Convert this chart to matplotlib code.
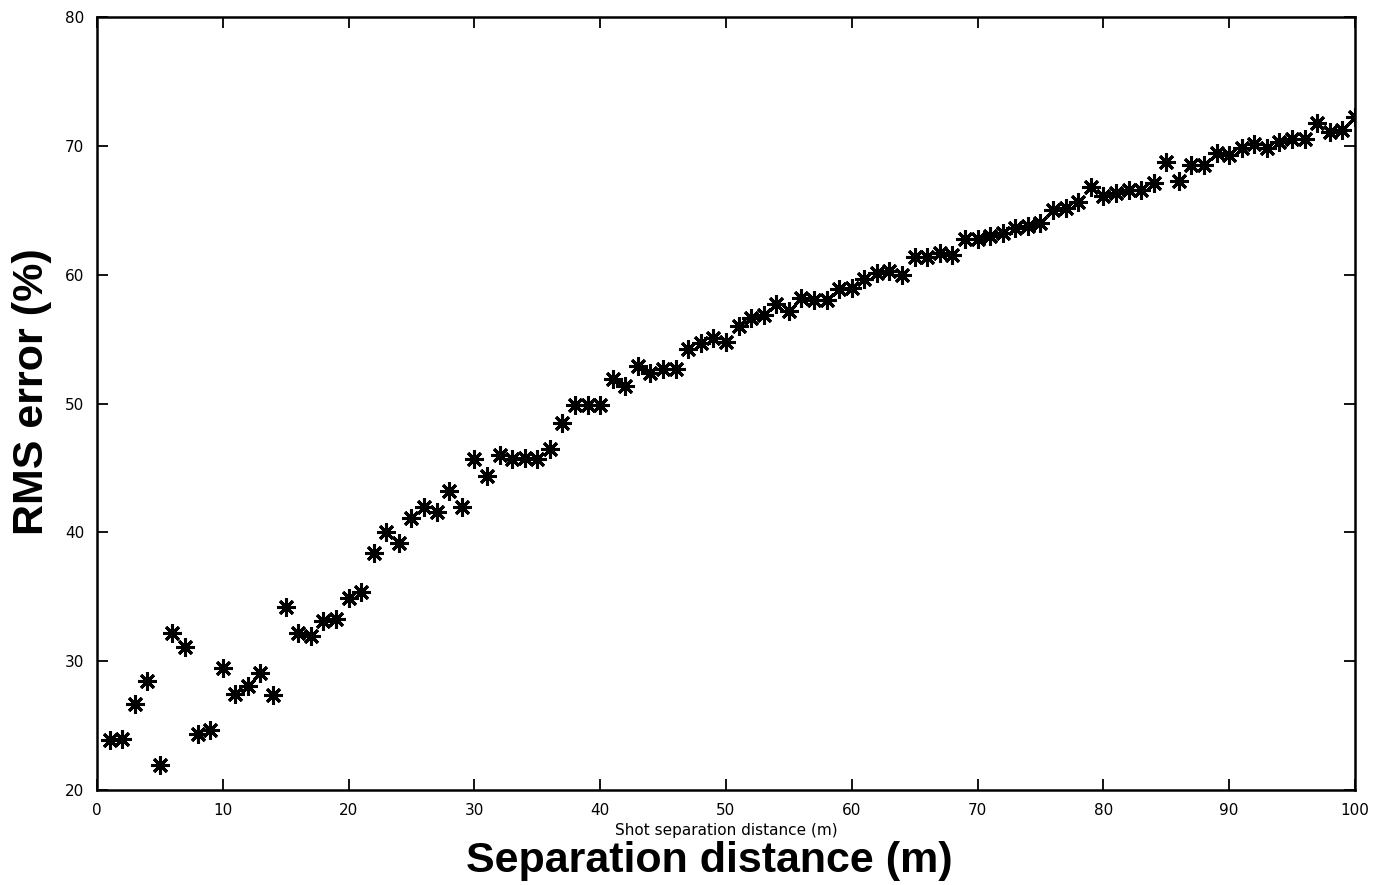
import matplotlib
matplotlib.use("Agg")
import matplotlib.pyplot as plt

# separation distance (m) and RMS error (%)
distance = list(range(1, 101))
rms_error = [
    23.9, 24.0, 26.7, 28.5, 22.0, 32.2, 31.1, 24.4, 24.7, 29.5,
    27.5, 28.1, 29.1, 27.4, 34.2, 32.2, 32.0, 33.1, 33.3, 34.9,
    35.4, 38.4, 40.0, 39.2, 41.1, 42.0, 41.6, 43.2, 42.0, 45.7,
    44.4, 46.0, 45.7, 45.8, 45.7, 46.5, 48.5, 49.9, 49.9, 49.9,
    51.9, 51.4, 52.9, 52.4, 52.7, 52.7, 54.2, 54.7, 55.1, 54.8,
    56.0, 56.6, 56.9, 57.7, 57.2, 58.2, 58.0, 58.0, 58.9, 59.0,
    59.7, 60.1, 60.3, 60.0, 61.4, 61.4, 61.7, 61.5, 62.8, 62.8,
    63.0, 63.2, 63.6, 63.8, 64.0, 65.0, 65.2, 65.6, 66.8, 66.1,
    66.3, 66.6, 66.6, 67.1, 68.7, 67.3, 68.5, 68.5, 69.4, 69.3,
    69.8, 70.1, 69.8, 70.3, 70.5, 70.5, 71.8, 71.1, 71.2, 72.2,
]
x_ticks = list(range(0, 101, 10))
y_ticks = list(range(20, 81, 10))

fig = plt.figure(figsize=(13.77, 8.85), dpi=100)
ax = fig.add_axes([0.0704, 0.107, 0.9136, 0.874])

ax.plot(distance, rms_error, linestyle="none", marker=(8, 2, 0),
        markersize=13, markeredgewidth=2.2, color="black")

ax.set_xlim(0, 100)
ax.set_ylim(20, 80)
ax.set_xticks(x_ticks)
ax.set_yticks(y_ticks)
ax.tick_params(direction="in", length=8, width=1.3, top=True, right=True,
               labelsize=11, pad=9)
for s in ax.spines.values():
    s.set_linewidth(1.8)

ax.set_xlabel("Shot separation distance (m)", fontsize=11, labelpad=4)
fig.text(0.023, 0.558, "RMS error (%)", fontsize=31, fontweight="bold",
         family="Liberation Sans", rotation=90, ha="center", va="center")
fig.text(0.515, 0.027, "Separation distance (m)", fontsize=31,
         fontweight="bold", family="Liberation Sans", ha="center", va="center")

fig.savefig("out.png", dpi=100)
